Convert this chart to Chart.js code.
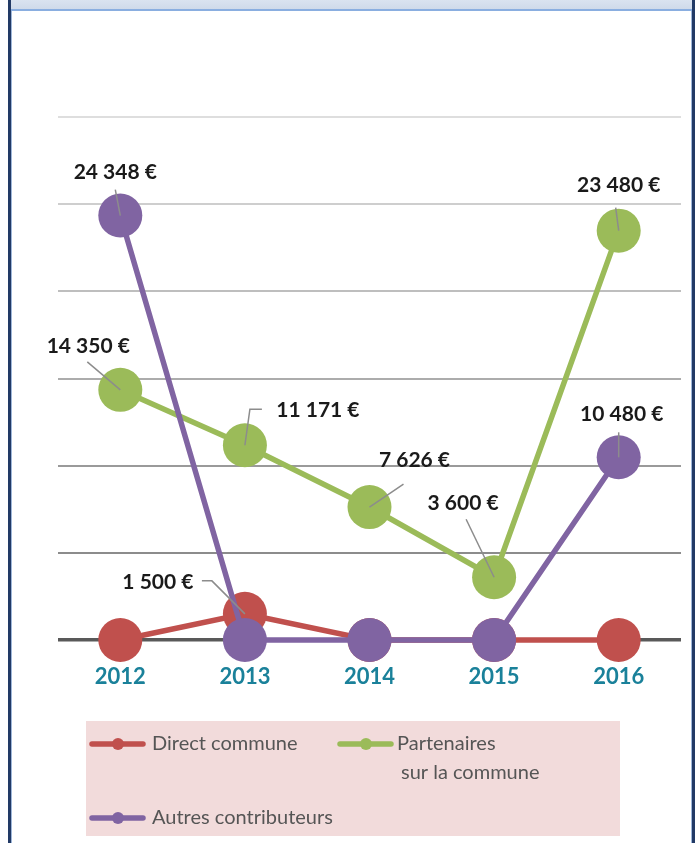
<!DOCTYPE html>
<html>
<head>
<meta charset="utf-8">
<script src="https://cdn.jsdelivr.net/npm/chart.js@4.4.1/dist/chart.umd.min.js"></script>
<style>
  html, body { margin: 0; padding: 0; background: #ffffff; }
  #wrap { position: relative; width: 699px; height: 843px; overflow: hidden; }
  #frame {
    position: absolute; left: 8px; top: 0; width: 681px; height: 843px;
    border-left: 3px solid #223a66; border-right: 3px solid #223a66;
    box-shadow: inset 1px 0 0 #9fb7d9, inset -1px 0 0 #9fb7d9;
  }
  #topbar {
    position: absolute; left: 0; right: 0; top: 0; height: 9px;
    background: linear-gradient(#dae3f0, #cfdaea);
    border-bottom: 2px solid #8aaee0;
  }
  #chart { position: absolute; left: 0; top: 0; }
</style>
</head>
<body>
<div id="wrap">
  <div id="frame"><div id="topbar"></div></div>
  <canvas id="chart" width="699" height="843"></canvas>
</div>
<script>
// categories and series
const years = ['2012', '2013', '2014', '2015', '2016'];
const directCommune = [0, 1500, 0, 0, 0];
const partenaires = [14350, 11171, 7626, 3600, 23480];
const autresContributeurs = [24348, 0, 0, 0, 10480];
const seriesNames = ['Direct commune', ['Partenaires', 'sur la commune'], 'Autres contributeurs'];

const RED = '#C0504D';
const GREEN = '#9BBB59';
const PURPLE = '#8064A2';

// "24 348 €" style
const euro = (v) => String(v).replace(/\B(?=(\d{3})+(?!\d))/g, ' ') + ' €';

// gridline colours, lighter towards the top
const gridColors = { 0: '#595959', 5000: '#8c8c8c', 10000: '#9a9a9a', 15000: '#acacac', 20000: '#bebebe', 25000: '#cecece', 30000: '#dedede' };

// label placement relative to its point: [dx, dy] of label centre, leader polyline
const labelPlacement = {
  '0-1': { at: [-87, -32], leader: [[0, 0], [-33, -33], [-43, -33]] },
  '1-0': { at: [-32, -44], leader: [[0, 0], [-33, -28]] },
  '1-1': { at: [73, -35], leader: [[0, 0], [5, -36], [17, -36]] },
  '1-2': { at: [45, -47], leader: [[0, 0], [34, -23]] },
  '1-3': { at: [-31, -74], leader: [[0, 0], [-28, -58]] },
  '1-4': { at: [0, -45], leader: [[0, 0], [-3, -23]] },
  '2-0': { at: [-5, -43], leader: [[0, 0], [-5, -26]] },
  '2-4': { at: [3, -43], leader: [[0, 0], [0, -25]] }
};

const valueLabels = {
  id: 'valueLabels',
  afterDatasetsDraw(chart) {
    const ctx = chart.ctx;
    ctx.save();
    chart.data.datasets.forEach((ds, di) => {
      const meta = chart.getDatasetMeta(di);
      ds.data.forEach((v, i) => {
        const p = labelPlacement[di + '-' + i];
        if (!v || !p) return;
        const pt = meta.data[i];
        ctx.strokeStyle = '#8c8c8c';
        ctx.lineWidth = 1.5;
        ctx.beginPath();
        p.leader.forEach((q, k) => {
          if (k === 0) ctx.moveTo(pt.x + q[0], pt.y + q[1]);
          else ctx.lineTo(pt.x + q[0], pt.y + q[1]);
        });
        ctx.stroke();
        ctx.fillStyle = '#1a1a1a';
        ctx.font = 'bold 21px Lato';
        ctx.textAlign = 'center';
        ctx.textBaseline = 'middle';
        ctx.fillText(euro(v), pt.x + p.at[0], pt.y + p.at[1]);
      });
    });
    ctx.restore();
  }
};

// legend drawn in a pink box below the axis
const boxLegend = {
  id: 'boxLegend',
  afterDraw(chart) {
    const ctx = chart.ctx;
    const items = [
      { x: 92, y: 744, color: RED },
      { x: 340, y: 744, color: GREEN },
      { x: 92, y: 818, color: PURPLE }
    ];
    ctx.save();
    ctx.fillStyle = '#F2DBDB';
    ctx.fillRect(86, 721, 534, 115);
    items.forEach((it, i) => {
      ctx.strokeStyle = it.color;
      ctx.lineWidth = 5.5;
      ctx.lineCap = 'round';
      ctx.beginPath();
      ctx.moveTo(it.x, it.y);
      ctx.lineTo(it.x + 51, it.y);
      ctx.stroke();
      ctx.fillStyle = it.color;
      ctx.beginPath();
      ctx.arc(it.x + 26, it.y, 6, 0, Math.PI * 2);
      ctx.fill();
      ctx.fillStyle = '#555555';
      ctx.font = '20px Lato';
      ctx.textAlign = 'left';
      ctx.textBaseline = 'middle';
      const name = seriesNames[i];
      if (Array.isArray(name)) {
        ctx.fillText(name[0], it.x + 57, it.y);
        ctx.fillText(name[1], it.x + 61, it.y + 29);
      } else {
        ctx.fillText(name, it.x + 60, it.y);
      }
    });
    ctx.restore();
  }
};

const lineSet = (label, data, color, order) => ({
  label: label,
  data: data,
  borderColor: color,
  backgroundColor: color,
  borderWidth: 5.5,
  pointRadius: 22,
  pointHoverRadius: 22,
  pointBorderWidth: 0,
  tension: 0,
  clip: false,
  order: order
});

new Chart('chart', {
  type: 'line',
  data: {
    labels: years,
    datasets: [
      lineSet('Direct commune', directCommune, RED, 2),
      lineSet('Partenaires sur la commune', partenaires, GREEN, 1),
      lineSet('Autres contributeurs', autresContributeurs, PURPLE, 0)
    ]
  },
  options: {
    responsive: false,
    animation: false,
    devicePixelRatio: 1,
    layout: { autoPadding: false, padding: { left: 58, right: 18, top: 117, bottom: 140 } },
    plugins: {
      legend: { display: false },
      tooltip: { enabled: false }
    },
    scales: {
      x: {
        offset: true,
        grid: { display: false, drawTicks: false },
        border: { display: false },
        ticks: {
          color: '#1a819a',
          font: { family: 'Lato', weight: 'bold', size: 22 },
          padding: 24
        },
        afterFit: (scale) => {
          scale.height = 63;
          scale.paddingLeft = 0;
          scale.paddingRight = 0;
        }
      },
      y: {
        min: 0,
        max: 30000,
        ticks: { display: false, stepSize: 5000 },
        border: { display: false },
        grid: {
          drawTicks: false,
          color: (c) => gridColors[c.tick.value] || '#cccccc',
          lineWidth: (c) => c.tick.value === 0 ? 3.5 : 2
        }
      }
    }
  },
  plugins: [valueLabels, boxLegend]
});
</script>
</body>
</html>
